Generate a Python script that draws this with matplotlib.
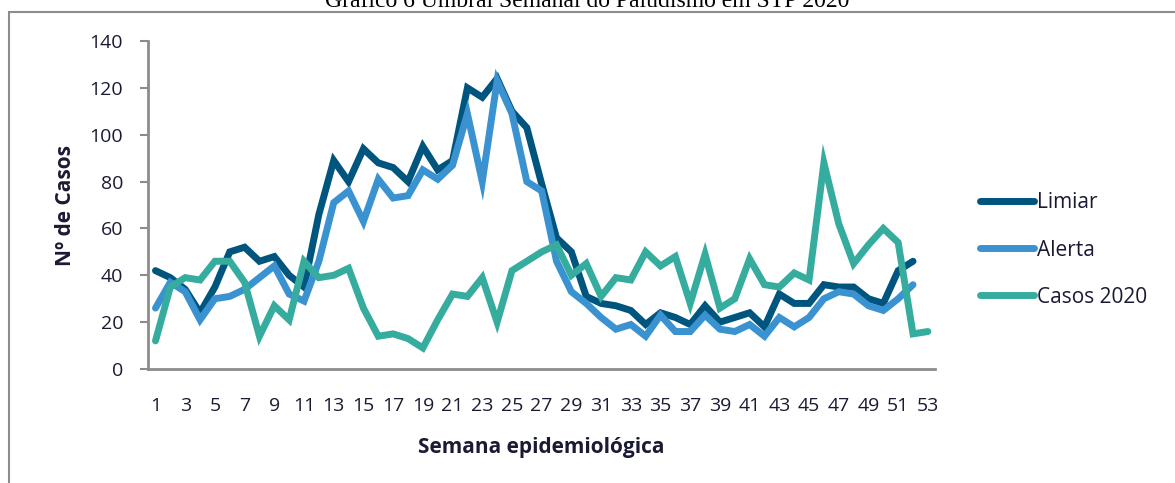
import numpy as np
import matplotlib.pyplot as plt
from matplotlib.patches import Rectangle

# semanas epidemiologicas
semanas = np.arange(1, 54)

limiar = [42, 39, 34, 24, 35, 50, 52, 46, 48, 40, 35, 66, 89, 80, 94, 88, 86, 80, 95, 85,
          89, 120, 116, 124, 110, 103, 79, 56, 50, 31, 28, 27, 25, 19, 24, 22, 19, 27, 20, 22,
          24, 18, 32, 28, 28, 36, 35, 35, 30, 28, 42, 46]
alerta = [26, 37, 33, 21, 30, 31, 34, 39, 44, 32, 29, 46, 71, 76, 63, 81, 73, 74, 85, 81,
          87, 109, 80, 123, 109, 80, 76, 46, 33, 28, 22, 17, 19, 14, 23, 16, 16, 23, 17, 16,
          19, 14, 22, 18, 22, 30, 33, 32, 27, 25, 30, 36]
casos_2020 = [12, 35, 39, 38, 46, 46, 37, 14, 27, 21, 46, 39, 40, 43, 26, 14, 15, 13, 9, 21,
              32, 31, 39, 20, 42, 46, 50, 53, 40, 45, 31, 39, 38, 50, 44, 48, 28, 49, 26, 30,
              47, 36, 35, 41, 38, 88, 62, 45, 53, 60, 54, 15, 16]

nomes = ['Limiar', 'Alerta', 'Casos 2020']
cores = ['#00557F', '#3A93D0', '#36AC9F']
texto = '#1a1a33'

plt.rcParams['font.family'] = ['Open Sans', 'DejaVu Sans']

fig = plt.figure(figsize=(11.75, 4.83), dpi=100)
ax = fig.add_axes([0.126, 0.236, 0.67, 0.679])

for serie, nome, cor in zip([limiar, alerta, casos_2020], nomes, cores):
    ax.plot(semanas[:len(serie)], serie, color=cor, lw=5, label=nome,
            solid_capstyle='round', solid_joinstyle='miter')

ax.set_xlim(0.5, 53.5)
ax.set_ylim(0, 140)
ax.set_yticks(range(0, 141, 20))
ax.set_xticks(semanas[::2])
ax.tick_params(axis='x', length=0, pad=20, labelsize=14, labelcolor=texto)
ax.tick_params(axis='y', length=6, color='#8c8c8c', width=1.5, labelsize=14,
               labelcolor=texto, pad=12)
for s in ['top', 'right']:
    ax.spines[s].set_visible(False)
for s in ['left', 'bottom']:
    ax.spines[s].set_color('#8c8c8c')
    ax.spines[s].set_linewidth(2)

ax.set_ylabel('Nº de Casos', fontsize=15, fontweight='bold', color=texto, labelpad=10)
ax.set_xlabel('Semana epidemiológica', fontsize=15, fontweight='bold', color=texto,
              labelpad=16)

leg = ax.legend(loc='center left', bbox_to_anchor=(980 / 1175, 1 - 250 / 483),
                bbox_transform=fig.transFigure, frameon=False,
                fontsize=15, handlelength=2.6, handletextpad=0.15, labelspacing=1.25,
                borderaxespad=0, borderpad=0, labelcolor=texto)

# moldura cinzenta
fig.patches.append(Rectangle((0.008, -0.1), 1.1, 1.075, transform=fig.transFigure,
                             fill=False, edgecolor='#8c8c8c', lw=1.5))

fig.text(0.5, 1 - 7 / 483, 'Grafico 6 Umbral Semanal do Paludismo em STP 2020',
         ha='center', va='baseline', fontsize=17, family='Liberation Serif')

fig.savefig('out.png', dpi=100)
